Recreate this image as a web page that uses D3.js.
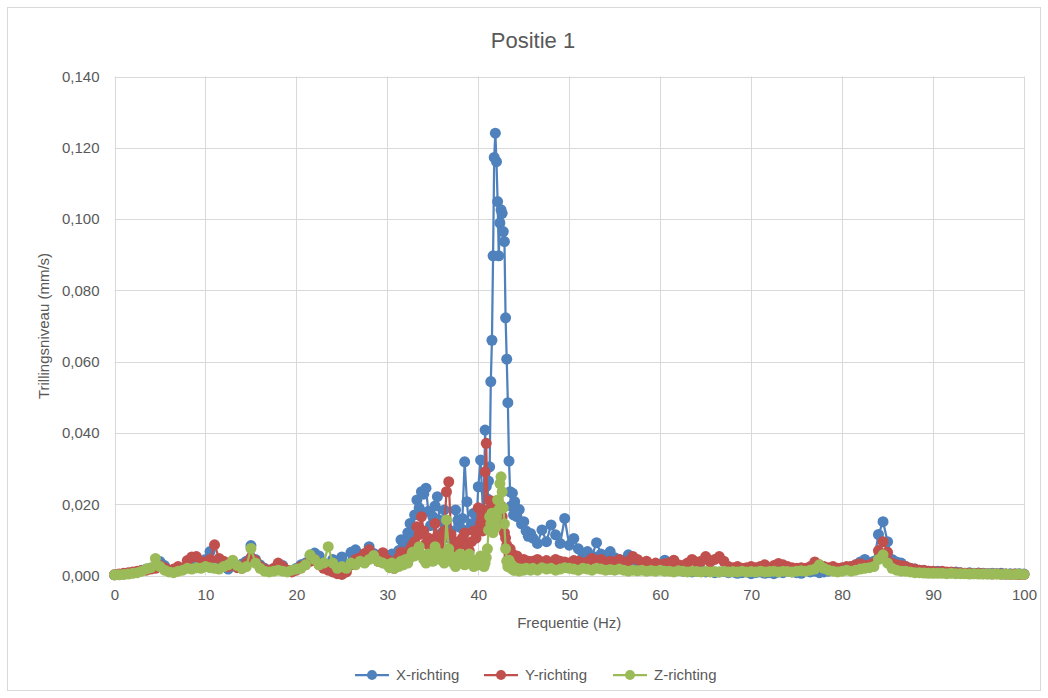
<!DOCTYPE html>
<html>
<head>
<meta charset="utf-8">
<title>Positie 1</title>
<script src="https://cdn.jsdelivr.net/npm/d3@7"></script>
<style>
    body { margin: 0; background: #fff; }
    svg { display: block; font-family: "Liberation Sans", Arial, sans-serif; }
</style>
</head>
<body>
<div id="chart"></div>
<script>
// Positie 1 - trillingsniveau per frequentie

// Frequency grid (Hz): [start, stop, step], finer around the 42 Hz peak
const freqSegments = [
    [0, 30, 0.5],
    [30, 40.5, 0.25],
    [40.5, 44, 0.125],
    [44, 46, 0.25],
    [46, 100.001, 0.5]
];
const freq = freqSegments.flatMap(([a, b, s]) => d3.range(a, b, s));

// X-richting (mm/s)
const xRichting = [
    // 0 - 29.5 Hz
    .0002, .0003, .0004, .0006, .0008, .001, .0015, .0018, .002, .0025,
    .0039, .0028, .0015, .0012, .002, .0018, .0025, .003, .0022, .0035,
    .0045, .0067, .0035, .002, .0028, .0018, .003, .0025, .0032, .004,
    .0084, .0045, .003, .002, .0015, .0018, .0025, .0028, .0015, .0012,
    .002, .003, .0035, .0055, .0063, .0055, .0035, .002, .0045, .004,
    .0052, .003, .0065, .0072, .0058, .0045, .0081, .0062, .0045, .005,
    // 30 - 40.25 Hz
    .0055, .004, .006, .0045, .0058, .007, .01, .0085, .0095, .012,
    .0146, .011, .017, .0212, .019, .0235, .0228, .0245, .018, .014,
    .0165, .0195, .0221, .0155, .012, .0184, .0135, .0105, .0125, .0095,
    .0184, .0155, .0135, .016, .0319, .0207, .013, .0145, .0175, .0125,
    .0249, .0324,
    // 40.5 - 43.875 Hz
    .0185, .0245, .0408, .025, .0215, .0265, .0305, .0544, .066, .0897,
    .1173, .1241, .1161, .1049, .0897, .0989, .1026, .1016, .0965, .0937,
    .0723, .0607, .0485, .0321, .0235, .0195, .0231, .017,
    // 44 - 45.75 Hz
    .0207, .0165, .0185, .0145, .0151, .0125, .011, .0118,
    // 46 - 100 Hz
    .0105, .009, .0128, .0095, .0142, .0114, .009, .016, .0085, .0104,
    .0075, .006, .0067, .0055, .0092, .006, .0048, .0067, .005, .0045,
    .004, .0058, .004, .0035, .003, .0025, .0028, .003, .0025, .0043,
    .002, .0018, .0015, .0012, .0015, .001, .0012, .0015, .001, .0012,
    .0008, .001, .0012, .0008, .001, .0006, .0008, .001, .0005, .0008,
    .001, .0006, .0008, .0005, .001, .0008, .0012, .001, .0008, .0006,
    .0015, .001, .0012, .0008, .001, .0012, .0015, .0018, .002, .0022,
    .0025, .003, .0038, .0045, .0035, .004, .0115, .0151, .0095, .0045,
    .0038, .0035, .0025, .002, .0018, .0015, .0012, .0012, .001, .0012,
    .001, .0008, .0008, .001, .0008, .0006, .0008, .0006, .0007, .0006,
    .0005, .0006, .0005, .0006, .0004, .0005, .0004, .0005, .0004
];

// Y-richting (mm/s)
const yRichting = [
    // 0 - 29.5 Hz
    .0002, .0004, .0006, .0008, .001, .0012, .0014, .0015, .0018, .002,
    .0028, .0022, .0015, .0018, .0025, .002, .0042, .0052, .0053, .004,
    .0035, .0045, .0086, .0048, .004, .0025, .003, .0022, .002, .0035,
    .005, .0042, .0025, .0018, .0012, .002, .0035, .0025, .0015, .001,
    .0015, .0025, .003, .004, .0045, .003, .002, .0015, .001, .0005,
    .0003, .001, .003, .0045, .005, .0062, .0072, .0055, .004, .0064,
    // 30 - 40.25 Hz
    .0045, .003, .0038, .002, .0035, .005, .0065, .0045, .004, .0055,
    .0075, .0085, .0095, .0137, .0115, .0165, .0125, .009, .0105, .0075,
    .0095, .0146, .011, .0085, .0105, .0125, .0235, .0263, .0115, .0085,
    .007, .0095, .0085, .0105, .0119, .0085, .007, .0095, .0125, .0105,
    .019, .0145,
    // 40.5 - 43.875 Hz
    .0125, .0165, .0291, .0371, .018, .0145, .0185, .021, .0165, .0195,
    .0175, .0155, .0165, .0185, .0175, .016, .0195, .0165, .0145, .012,
    .0105, .0085, .007, .0055, .0075, .0045, .006, .004,
    // 44 - 45.75 Hz
    .0045, .0055, .004, .0035, .0045, .003, .004, .0035,
    // 46 - 100 Hz
    .004, .0045, .0038, .0042, .0035, .0045, .004, .0038, .0035, .0042,
    .004, .0035, .0038, .0048, .0042, .0045, .0035, .004, .0038, .0045,
    .0038, .004, .0053, .0045, .0035, .004, .003, .0035, .003, .0033,
    .0035, .0043, .003, .0028, .0035, .0045, .0038, .004, .0053, .0038,
    .0045, .0053, .004, .0025, .0022, .0025, .002, .0022, .0025, .0022,
    .0025, .003, .0022, .0028, .0034, .003, .0025, .0022, .002, .0022,
    .002, .0025, .0038, .003, .0025, .0022, .0025, .002, .0022, .0025,
    .0025, .003, .0033, .0028, .003, .0035, .007, .0095, .0065, .0035,
    .003, .0028, .0025, .002, .0018, .0015, .0015, .0012, .0012, .001,
    .0012, .001, .001, .0008, .0008, .0006, .0006, .0005, .0006, .0005,
    .0005, .0004, .0005, .0004, .0004, .0003, .0004, .0003, .0003
];

// Z-richting (mm/s)
const zRichting = [
    // 0 - 29.5 Hz
    .0002, .0002, .0003, .0004, .0006, .0008, .0012, .0018, .0022, .0048,
    .0025, .0015, .001, .0008, .0012, .0015, .002, .0018, .0022, .002,
    .0025, .0022, .002, .0018, .0025, .003, .0043, .0028, .002, .0025,
    .0076, .0035, .002, .0012, .001, .0012, .0015, .0012, .001, .0015,
    .0018, .002, .003, .0058, .0045, .003, .0035, .0081, .0035, .002,
    .0025, .002, .0035, .003, .004, .0035, .0045, .0056, .004, .0035,
    // 30 - 40.25 Hz
    .003, .0022, .0035, .002, .003, .0025, .004, .003, .0045, .0035,
    .005, .0065, .0055, .007, .0081, .006, .0045, .0035, .006, .005,
    .004, .0081, .0065, .0045, .006, .0035, .0156, .0075, .0055, .0035,
    .0025, .005, .006, .004, .003, .0045, .006, .0045, .0025, .004,
    .003, .0055,
    // 40.5 - 43.875 Hz
    .004, .0025, .0035, .005, .0075, .0127, .0165, .0145, .0175, .012,
    .0155, .0135, .0165, .0212, .0185, .0258, .0277, .0235, .019, .0145,
    .0075, .004, .0025, .0043, .0035, .002, .0028, .0015,
    // 44 - 45.75 Hz
    .0015, .002, .0012, .0018, .0015, .002, .0018, .0015,
    // 46 - 100 Hz
    .002, .0015, .0022, .0018, .002, .0015, .0018, .0022, .002, .0018,
    .0015, .002, .0018, .0015, .002, .0018, .0015, .0017, .0015, .0018,
    .0015, .0012, .0015, .0013, .0015, .0012, .0014, .0012, .0015, .0012,
    .0012, .001, .0013, .0012, .001, .0012, .0011, .001, .0012, .001,
    .0011, .001, .0012, .001, .0011, .001, .0012, .001, .0011, .001,
    .0012, .001, .0011, .0012, .001, .0012, .0011, .001, .0012, .0013,
    .0012, .0015, .0018, .003, .002, .0015, .0012, .001, .0012, .0015,
    .0012, .0015, .0018, .002, .0022, .0025, .0045, .0058, .0035, .002,
    .0015, .0012, .0012, .001, .0008, .0008, .0007, .0006, .0006, .0006,
    .0006, .0005, .0006, .0005, .0005, .0005, .0004, .0005, .0004, .0004,
    .0004, .0004, .0004, .0003, .0004, .0003, .0003, .0004, .0003
];

const seriesNames = ['X-richting', 'Y-richting', 'Z-richting'];
const seriesColors = ['#4F81BD', '#C0504D', '#9BBB59'];
const xTicks = [0, 10, 20, 30, 40, 50, 60, 70, 80, 90, 100];
const yTicks = [0, 0.02, 0.04, 0.06, 0.08, 0.10, 0.12, 0.14];

// Layout
const config = {
    width: 1048,
    height: 698,
    left: 114.5,
    right: 1024,
    top: 76.5,
    bottom: 575.5,
    markerRadius: 5.5,
    lineWidth: 2.25,
    textColor: '#595959',
    gridColor: '#D9D9D9'
};

const nl = d3.formatLocale({ decimal: ',', thousands: '.', grouping: [3], currency: ['€', ''] });
const fmtY = nl.format('.3f');

const svg = d3.select('#chart')
    .append('svg')
    .attr('width', config.width)
    .attr('height', config.height);

// Chart border
svg.append('rect')
    .attr('x', 7.5)
    .attr('y', 7.5)
    .attr('width', 1033)
    .attr('height', 683)
    .attr('fill', '#fff')
    .attr('stroke', config.gridColor)
    .attr('stroke-width', 1);

const x = d3.scaleLinear().domain([0, 100]).range([config.left, config.right]);
const y = d3.scaleLinear().domain([0, 0.14]).range([config.bottom, config.top]);

// Gridlines
const grid = svg.append('g').attr('class', 'grid');
grid.selectAll('line.h')
    .data(yTicks)
    .enter().append('line')
    .attr('class', 'h')
    .attr('x1', config.left)
    .attr('x2', config.right)
    .attr('y1', d => Math.round(y(d)) + 0.5)
    .attr('y2', d => Math.round(y(d)) + 0.5)
    .attr('stroke', config.gridColor);

grid.selectAll('line.v')
    .data(xTicks)
    .enter().append('line')
    .attr('class', 'v')
    .attr('x1', d => Math.round(x(d)) + 0.5)
    .attr('x2', d => Math.round(x(d)) + 0.5)
    .attr('y1', config.top)
    .attr('y2', config.bottom)
    .attr('stroke', config.gridColor);

// Axes (labels only, lines come from the grid)
const xAxis = svg.append('g')
    .attr('transform', `translate(0,${config.bottom})`)
    .call(d3.axisBottom(x).tickValues(xTicks).tickSize(0).tickPadding(14).tickFormat(d3.format('d')));

const yAxis = svg.append('g')
    .attr('transform', `translate(${config.left},0)`)
    .call(d3.axisLeft(y).tickValues(yTicks).tickSize(0).tickPadding(15).tickFormat(fmtY));

[xAxis, yAxis].forEach(axis => {
    axis.select('.domain').remove();
    axis.selectAll('text')
        .attr('fill', config.textColor)
        .style('font-size', '15px')
        .style('font-family', '"Liberation Sans", Arial, sans-serif');
});

// Series: line then markers, drawn in order X, Y, Z
const allSeries = [xRichting, yRichting, zRichting];
const line = d3.line()
    .x((d, i) => x(freq[i]))
    .y(d => y(d));

allSeries.forEach((values, s) => {
    const g = svg.append('g').attr('class', 'series');
    g.append('path')
        .datum(values)
        .attr('d', line)
        .attr('fill', 'none')
        .attr('stroke', seriesColors[s])
        .attr('stroke-width', config.lineWidth)
        .attr('stroke-linejoin', 'round');

    g.selectAll('circle')
        .data(values)
        .enter().append('circle')
        .attr('cx', (d, i) => x(freq[i]))
        .attr('cy', d => y(d))
        .attr('r', config.markerRadius)
        .attr('fill', seriesColors[s]);
});

// Titles
svg.append('text')
    .attr('x', 533)
    .attr('y', 48)
    .attr('text-anchor', 'middle')
    .attr('fill', config.textColor)
    .style('font-size', '22px')
    .text('Positie 1');

svg.append('text')
    .attr('x', (config.left + config.right) / 2)
    .attr('y', 628)
    .attr('text-anchor', 'middle')
    .attr('fill', config.textColor)
    .style('font-size', '15px')
    .text('Frequentie (Hz)');

svg.append('text')
    .attr('transform', `translate(49,${(config.top + config.bottom) / 2}) rotate(-90)`)
    .attr('text-anchor', 'middle')
    .attr('fill', config.textColor)
    .style('font-size', '15px')
    .text('Trillingsniveau (mm/s)');

// Legend
const legendX = [372, 501, 630];
const legend = svg.append('g')
    .selectAll('g')
    .data(seriesNames)
    .enter().append('g')
    .attr('transform', (d, i) => `translate(${legendX[i]},675)`);

legend.append('line')
    .attr('x1', -17)
    .attr('x2', 17)
    .attr('stroke', (d, i) => seriesColors[i])
    .attr('stroke-width', config.lineWidth);

legend.append('circle')
    .attr('r', 5)
    .attr('fill', (d, i) => seriesColors[i]);

legend.append('text')
    .attr('x', 24)
    .attr('dy', '0.35em')
    .attr('fill', config.textColor)
    .style('font-size', '15px')
    .text(d => d);
</script>
</body>
</html>
